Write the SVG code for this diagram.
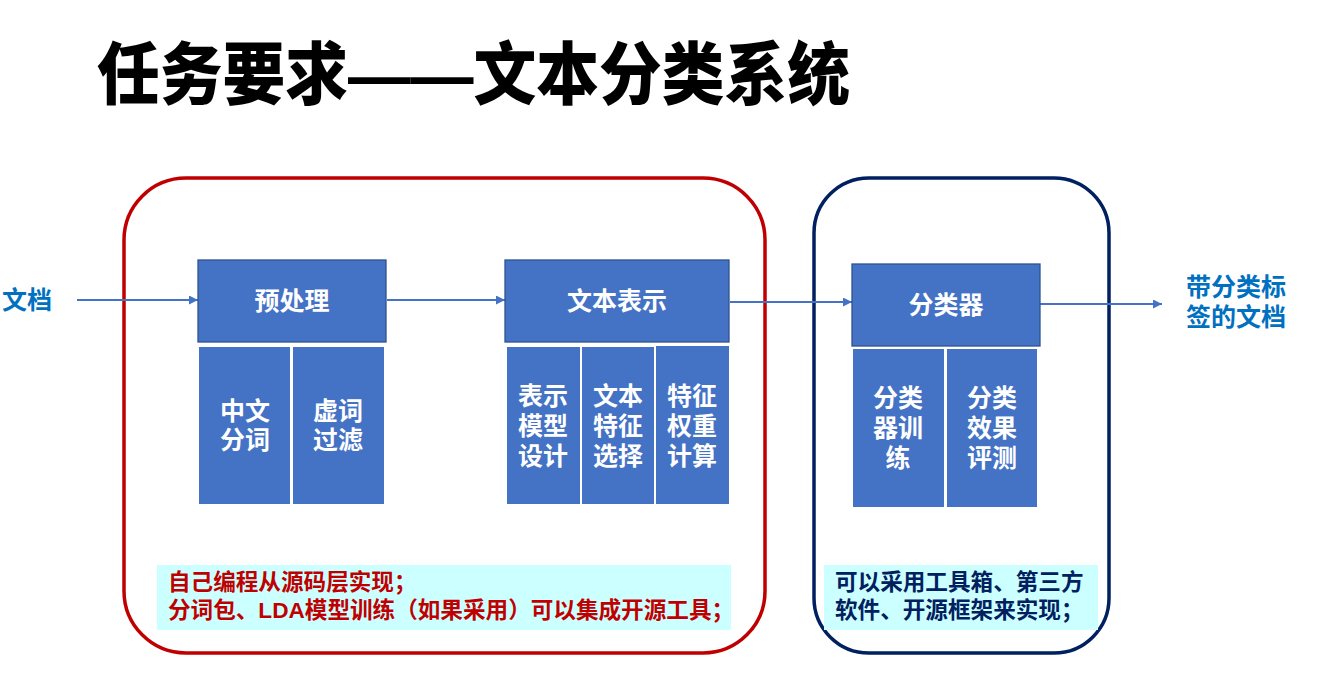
<svg xmlns="http://www.w3.org/2000/svg" width="1319" height="686" viewBox="0 0 1319 686">
<defs>
<marker id="ah" viewBox="0 0 10 10" refX="10" refY="5" markerWidth="9" markerHeight="9" markerUnits="userSpaceOnUse" orient="auto">
<path d="M0,0 L10,5 L0,10 z" fill="#4472C4"/>
</marker>
<style>
.t{font-family:"Liberation Sans","Noto Sans CJK SC",sans-serif;}
.main{fill:#4472C4;stroke:#2F528F;stroke-width:1.3;}
.sub{fill:#4472C4;}
.wt{fill:#fff;font-size:25px;font-weight:bold;text-anchor:middle;dominant-baseline:central;}
.lbl{fill:#0070C0;font-size:25px;font-weight:bold;}
.conn{stroke:#4472C4;stroke-width:2.2;fill:none;marker-end:url(#ah);}
.note{fill:#CCFFFF;}
.nt{font-size:22.6px;font-weight:bold;}
</style>
</defs>
<rect width="1319" height="686" fill="#fff"/>
<text class="t" x="97" y="99" font-size="68" font-weight="900" fill="#000" textLength="753" lengthAdjust="spacingAndGlyphs">任务要求——文本分类系统</text>

<g id="group-self">
<rect x="124" y="178" width="641" height="475" rx="62" fill="none" stroke="#C00000" stroke-width="3.5"/>
</g>
<g id="group-tools">
<rect x="814" y="178" width="295" height="475" rx="55" fill="none" stroke="#002060" stroke-width="3.5"/>
</g>

<g id="connectors">
<line class="conn" x1="77" y1="300" x2="198" y2="300"/>
<line class="conn" x1="387" y1="300" x2="505" y2="300"/>
<line class="conn" x1="730" y1="302" x2="852" y2="302"/>
<line class="conn" x1="1040" y1="304" x2="1162" y2="304"/>
</g>

<g id="input-doc">
<text class="t lbl" x="2" y="309">文档</text>
</g>

<g id="preprocess">
<rect class="main" x="198" y="260" width="188" height="82"/>
<text class="t wt" x="292" y="301">预处理</text>
</g>
<g id="seg">
<rect class="sub" x="199" y="347" width="91" height="157"/>
<text class="t wt" x="245" y="411">中文</text>
<text class="t wt" x="245" y="440">分词</text>
</g>
<g id="stopword">
<rect class="sub" x="293" y="347" width="91" height="157"/>
<text class="t wt" x="338" y="411">虚词</text>
<text class="t wt" x="338" y="440">过滤</text>
</g>

<g id="textrep">
<rect class="main" x="505" y="260" width="224" height="82"/>
<text class="t wt" x="617" y="301">文本表示</text>
</g>
<g id="model">
<rect class="sub" x="507" y="347" width="73" height="157"/>
<text class="t wt" x="543" y="396">表示</text>
<text class="t wt" x="543" y="426">模型</text>
<text class="t wt" x="543" y="456">设计</text>
</g>
<g id="featsel">
<rect class="sub" x="582" y="347" width="72" height="157"/>
<text class="t wt" x="618" y="396">文本</text>
<text class="t wt" x="618" y="426">特征</text>
<text class="t wt" x="618" y="456">选择</text>
</g>
<g id="weight">
<rect class="sub" x="656" y="346" width="73" height="158"/>
<text class="t wt" x="692" y="396">特征</text>
<text class="t wt" x="692" y="426">权重</text>
<text class="t wt" x="692" y="456">计算</text>
</g>

<g id="classifier">
<rect class="main" x="852" y="264" width="188" height="82"/>
<text class="t wt" x="946" y="305">分类器</text>
</g>
<g id="train">
<rect class="sub" x="853" y="349" width="91" height="158"/>
<text class="t wt" x="898" y="398">分类</text>
<text class="t wt" x="898" y="428">器训</text>
<text class="t wt" x="898" y="458">练</text>
</g>
<g id="eval">
<rect class="sub" x="947" y="349" width="90" height="158"/>
<text class="t wt" x="992" y="398">分类</text>
<text class="t wt" x="992" y="428">效果</text>
<text class="t wt" x="992" y="458">评测</text>
</g>

<g id="output-doc">
<text class="t lbl" x="1186" y="296">带分类标</text>
<text class="t lbl" x="1186" y="326">签的文档</text>
</g>

<g id="note-self">
<rect class="note" x="157" y="565" width="574" height="65"/>
<text class="t nt" x="168" y="590" fill="#C00000">自己编程从源码层实现；</text>
<text class="t nt" x="168" y="618" fill="#C00000">分词包、LDA模型训练（如果采用）可以集成开源工具；</text>
</g>
<g id="note-tools">
<rect class="note" x="824" y="565" width="274" height="65"/>
<text class="t nt" x="835" y="590" fill="#002060">可以采用工具箱、第三方</text>
<text class="t nt" x="835" y="618" fill="#002060">软件、开源框架来实现；</text>
</g>
</svg>
